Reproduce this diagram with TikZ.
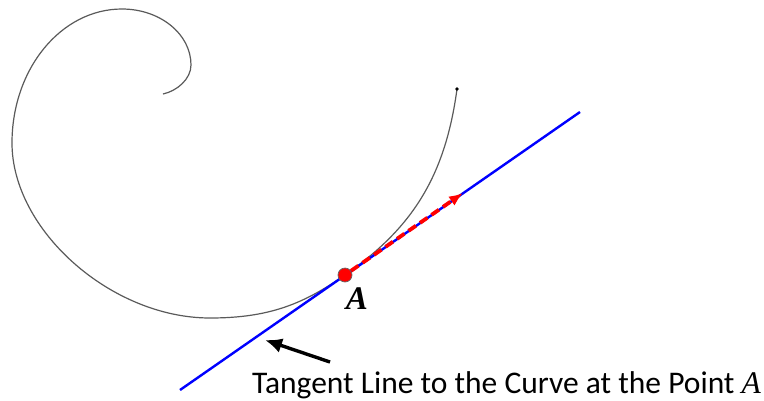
\documentclass[tikz,border=0pt]{standalone}
\usepackage{fontspec}
\setmainfont{Carlito}
\newfontfamily\labelfont{Liberation Serif}
\usepackage{tikz}
\usetikzlibrary{arrows.meta,positioning}
\definecolor{curvegray}{HTML}{5A5A5A}
\definecolor{dotred}{HTML}{FF0000}

\begin{document}
\begin{tikzpicture}[x=1pt,y=-1pt,
  >=Latex,
  spiral/.style={draw=curvegray,line width=1.2pt},
  tangent/.style={draw=blue,line width=2.4pt},
  dirarrow/.style={-{Latex[length=14pt,width=11pt]},draw=red,line width=3.8pt,dash pattern=on 9pt off 5pt},
  pointer/.style={-{Latex[length=17pt,width=15pt]},draw=black,line width=3.4pt},
  pt/.style={circle,draw=black!60,fill=dotred,inner sep=0pt,minimum size=14pt,line width=0.7pt},
  caption/.style={font=\fontsize{31.5}{36}\selectfont,anchor=base west,inner sep=0pt}
]
\useasboundingbox (0,0) rectangle (764,400);

% the curve
\draw[spiral] (163,94) .. controls (177,91) and (191,79) .. (191,65)
  .. controls (191,34) and (160,9) .. (122,9)
  .. controls (61,9) and (12,69) .. (12,143)
  .. controls (12,230) and (111,318) .. (210,318)
  .. controls (270,318) and (304,303.5) .. (345,275)
  .. controls (411,229) and (445,178) .. (457,89);
\fill[black] (457,89) circle (1.8pt);

% tangent line and direction
\coordinate (tlow) at (180,390);
\coordinate (thigh) at (580,112);
\coordinate (dirend) at (463,193);
\draw[tangent] (tlow) -- (thigh);
\node[pt] (A) at (345,275) {};
\draw[dirarrow] (A) -- (dirend);
\node[font=\labelfont\bfseries\itshape\fontsize{33}{36}\selectfont,inner sep=0pt] (lblA) at ([xshift=12pt,yshift=-24pt]A.center) {A};

% caption and pointer
\node[caption] (cap) at (252,393) {Tangent Line to the Curve at the Point {\labelfont\itshape A}};
\coordinate (tail) at (330,362);
\coordinate (tip) at (265,340);
\draw[pointer] (tail) -- (tip);
\end{tikzpicture}
\end{document}
